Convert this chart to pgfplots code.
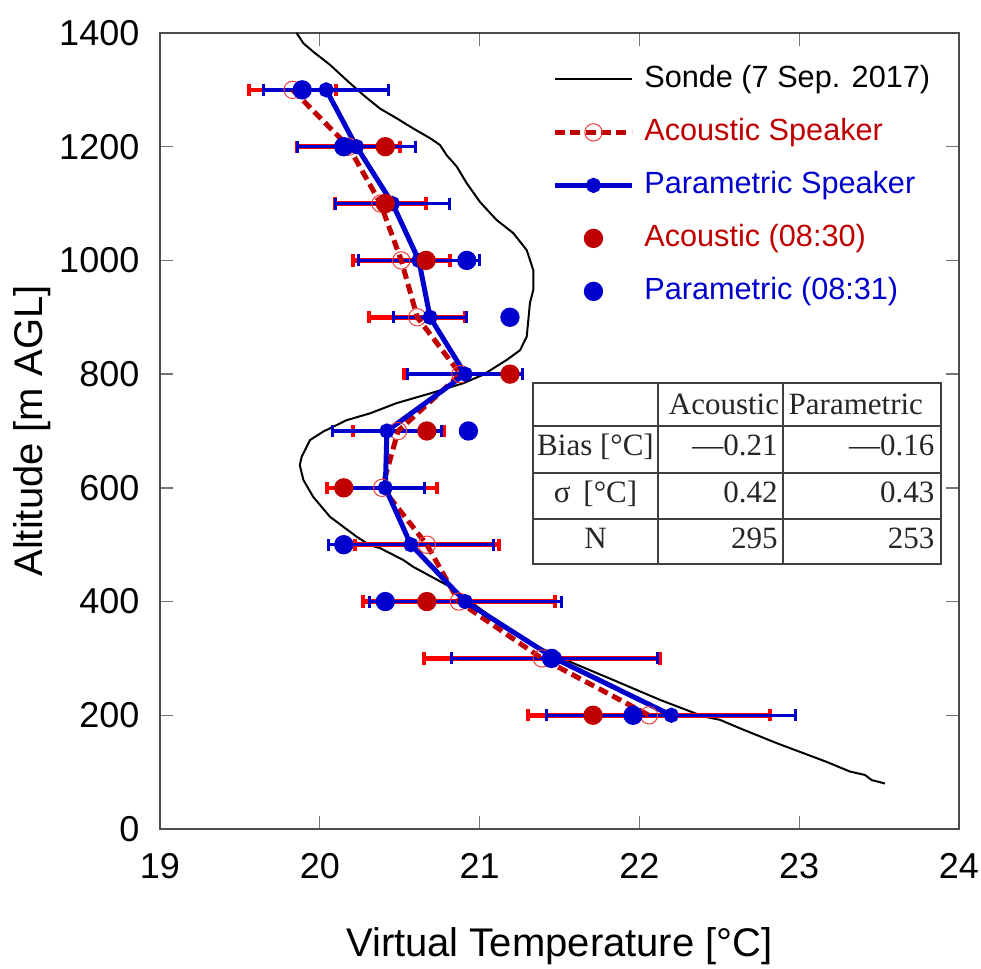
\documentclass[border=0pt]{standalone}
\usepackage{pgfplots}
\pgfplotsset{compat=1.18}
\usepackage{pgfplotstable}
\usepackage{fontspec}
\setmainfont{Liberation Sans}
\newfontfamily\tabfont{Liberation Serif}
\definecolor{pblue}{HTML}{0000CC}
\definecolor{adred}{HTML}{C00000}
\definecolor{bred}{HTML}{FF0000}
\definecolor{ored}{HTML}{F03C3C}

\pgfplotstableread{
T alt
19.855 1400
19.897 1382
19.959 1367
20.064 1344
20.168 1317
20.272 1291
20.377 1267
20.481 1250
20.585 1232
20.690 1215
20.752 1203
20.794 1185
20.857 1165
20.919 1136
21.002 1103
21.044 1090
21.107 1071
21.211 1048
21.295 1018
21.336 983
21.336 948
21.315 925
21.305 895
21.295 866
21.253 842
21.170 825
21.023 799
20.898 784
20.690 766
20.481 749
20.314 731
20.168 719
20.022 699
19.939 684
19.887 655
19.875 640
19.897 614
19.959 584
20.064 549
20.231 514
20.314 499
20.377 494
20.523 473
20.585 461
20.815 426
21.044 379
21.315 327
21.566 294
21.837 262
22.130 227
22.400 198
22.504 192
22.630 177
22.859 151
23.172 118
23.318 101
23.412 95
23.454 86
23.537 80
}\sonde

\pgfplotstableread{
alt ac acerr pa paerr
1300 19.83 0.27 20.04 0.39
1200 20.18 0.325 20.23 0.37
1100 20.38 0.285 20.455 0.355
1000 20.51 0.305 20.62 0.38
900 20.61 0.30 20.69 0.23
800 20.88 0.35 20.91 0.36
700 20.49 0.285 20.42 0.34
600 20.39 0.345 20.41 0.245
500 20.67 0.45 20.57 0.515
400 20.87 0.60 20.91 0.60
300 21.39 0.74 21.47 0.645
200 22.06 0.755 22.20 0.78
}\speak

\pgfplotstableread{
alt T
1200 20.41
1100 20.41
1000 20.665
800 21.19
700 20.67
600 20.15
400 20.67
200 21.71
}\acobs

\pgfplotstableread{
alt T
1300 19.89
1200 20.15
1000 20.92
900 21.19
700 20.93
500 20.15
400 20.41
300 21.45
200 21.96
}\paobs

\pgfplotsset{myleg/.style={legend image code/.code={\draw[mark repeat=2,mark phase=2,##1] plot coordinates {(0pt,0pt) (11.5pt,0pt) (23pt,0pt)};}}}

\begin{document}
\begin{tikzpicture}
\path[use as bounding box] (-48pt,-42pt) rectangle (246.3pt,248.7pt);
\begin{axis}[
  scale only axis, width=239.7pt, height=238.8pt,
  xmin=19, xmax=24, ymin=0, ymax=1400,
  xtick={19,20,21,22,23,24}, ytick={0,200,...,1400},
  tick align=inside, major tick length=3.9pt,
  tick style={draw=black!55, line width=0.4pt},
  axis line style={draw=black!70, line width=0.4pt},
  /pgf/number format/assume math mode=true,
  /pgf/number format/1000 sep={},
  ticklabel style={font=\fontsize{10.8}{12}\selectfont, inner sep=0pt},
  xticklabel style={yshift=-7pt},
  yticklabel style={xshift=-6pt},
  xlabel={Virtual Temperature [°C]}, ylabel={Altitude [m AGL]},
  label style={font=\fontsize{12}{14}\selectfont},
  xlabel style={at={(axis description cs:0.5,-0.147)}, anchor=center},
  ylabel style={at={(axis description cs:-0.160,0.5)}, anchor=center},
  legend style={at={(axis description cs:0.4906,0.9614)}, anchor=north west, draw=none, fill=none, inner sep=0pt, row sep=6.9pt, font=\fontsize{9.2}{11}\selectfont, nodes={inner sep=0pt, text height=7pt, text depth=2pt}, /tikz/every odd column/.append style={column sep=3pt}},
  legend cell align=left,
]
\addplot[black, line width=0.6pt, mark=none, myleg] table[x=T, y=alt]{\sonde};
\addlegendentry{Sonde (7 Sep. 2017)}

\addplot[forget plot, draw=none, mark=none,
  error bars/.cd, x dir=both, x explicit,
  error bar style={draw=bred, line width=1.4pt},
  error mark options={rotate=90, draw=bred, line width=1.2pt, mark size=1.85pt}]
  table[x=ac, y=alt, x error=acerr]{\speak};
\addplot[forget plot, draw=none, mark=none,
  error bars/.cd, x dir=both, x explicit,
  error bar style={draw=pblue, line width=1.0pt},
  error mark options={rotate=90, draw=pblue, line width=0.9pt, mark size=1.8pt}]
  table[x=pa, y=alt, x error=paerr]{\speak};

\addplot[adred, line width=1.5pt, dash pattern=on 3pt off 1.6pt, mark=o, mark size=2.6pt, mark options={solid, draw=ored, fill=none, line width=0.3pt}, myleg]
  table[x=ac, y=alt]{\speak};
\addlegendentry{\textcolor{adred}{Acoustic Speaker}}
\addplot[pblue, line width=1.5pt, mark=*, mark size=1.5pt, mark options={solid}, myleg]
  table[x=pa, y=alt]{\speak};
\addlegendentry{\textcolor{pblue}{Parametric Speaker}}
\addplot[only marks, mark=*, mark size=2.7pt, draw=adred, fill=adred, myleg]
  table[x=T, y=alt]{\acobs};
\addlegendentry{\textcolor{adred}{Acoustic (08:30)}}
\addplot[only marks, mark=*, mark size=2.7pt, draw=pblue, fill=pblue, myleg]
  table[x=T, y=alt]{\paobs};
\addlegendentry{\textcolor{pblue}{Parametric (08:31)}}
\end{axis}

\begin{scope}[shift={(-48pt,248.7pt)}, x=0.3pt, y=-0.3pt]
\fill[white] (532.7,382.7) rectangle (940.7,564);
\draw[black!75, line width=0.5pt] (532.7,382.7) rectangle (940.7,564);
\draw[black!75, line width=0.5pt] (658.3,382.7) -- (658.3,564) (783.3,382.7) -- (783.3,564)
  (532.7,426) -- (940.7,426) (532.7,472.7) -- (940.7,472.7) (532.7,519.3) -- (940.7,519.3);
\begin{scope}[every node/.style={inner sep=0pt, font=\tabfont\fontsize{9.3}{11}\selectfont, text=black!85}]
\node[anchor=base] at (724,415) {Acoustic};
\node[anchor=base] at (855.8,415) {Parametric};
\node[anchor=base] at (595.5,456) {Bias [°C]};
\node[anchor=base] at (595.5,502.7) {σ\,\ [°C]};
\node[anchor=base] at (595.5,548.3) {N};
\node[anchor=base east] at (778.3,456) {—0.21};
\node[anchor=base east] at (935,456) {—0.16};
\node[anchor=base east] at (778.3,502.7) {0.42};
\node[anchor=base east] at (935,502.7) {0.43};
\node[anchor=base east] at (778.3,548.3) {295};
\node[anchor=base east] at (935,548.3) {253};
\end{scope}
\end{scope}
\end{tikzpicture}
\end{document}
